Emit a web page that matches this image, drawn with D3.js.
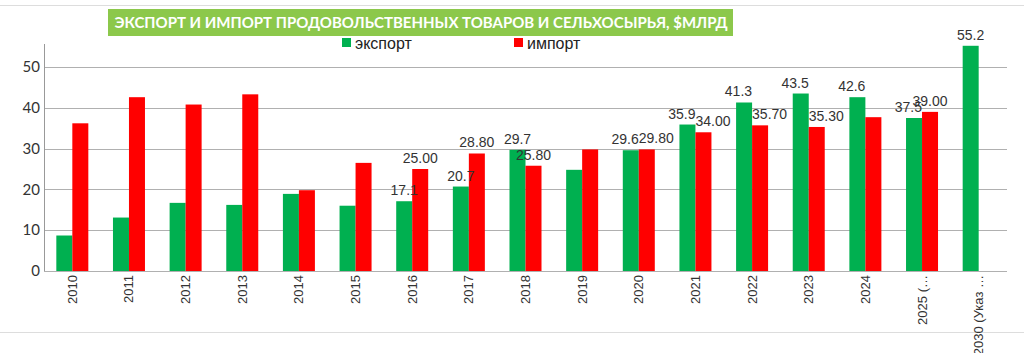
<!DOCTYPE html>
<html>
<head>
<meta charset="utf-8">
<script src="https://cdn.jsdelivr.net/npm/d3@7"></script>
<style>
  html, body { margin: 0; padding: 0; background: #fff; }
  svg { display: block; }
</style>
</head>
<body>
<div id="chart"></div>
<script>
const CATEGORIES = ["2010","2011","2012","2013","2014","2015","2016","2017","2018","2019",
                    "2020","2021","2022","2023","2024","2025 (…","2030 (Указ …"];
const EXPORT = [8.7, 13.1, 16.7, 16.2, 18.9, 16.0, 17.1, 20.7, 29.7, 24.8,
                29.6, 35.9, 41.3, 43.5, 42.6, 37.5, 55.2];
const IMPORT = [36.2, 42.6, 40.8, 43.3, 19.8, 26.5, 25.0, 28.8, 25.8, 29.8,
                29.8, 34.0, 35.7, 35.3, 37.7, 39.0, null];
// which values carry a data label
const EXPORT_LABELS = [null,null,null,null,null,null,"17.1","20.7","29.7",null,
                       "29.6","35.9","41.3","43.5","42.6","37.5","55.2"];
const IMPORT_LABELS = [null,null,null,null,null,null,"25.00","28.80","25.80",null,
                       "29.80","34.00","35.70","35.30",null,"39.00",null];
// how each label sits on its bar: m = centred, o = pushed to the outer edge
const EXPORT_ALIGN = "------mmm-ooooool".split("");
const IMPORT_ALIGN = "------mmm-oooo-m-".split("");
const Y_TICKS = [0, 10, 20, 30, 40, 50];
const TITLE = "ЭКСПОРТ И ИМПОРТ ПРОДОВОЛЬСТВЕННЫХ ТОВАРОВ И СЕЛЬХОСЫРЬЯ, $МЛРД";
const SERIES = [{ name: "экспорт", color: "#00b050" }, { name: "импорт", color: "#ff0000" }];

const W = 1024, H = 353;
const X0 = 44, X1 = 1007, Y0 = 271;
const BAR_W = 16;
const SANS = "Liberation Sans, Arial, sans-serif";

const svg = d3.select("#chart").append("svg").attr("width", W).attr("height", H);

// frame lines top/bottom
svg.append("line").attr("x1", 0).attr("x2", W).attr("y1", 5.5).attr("y2", 5.5)
  .attr("stroke", "#ddd");
svg.append("line").attr("x1", 0).attr("x2", W).attr("y1", 332.5).attr("y2", 332.5)
  .attr("stroke", "#ddd");

const x = d3.scaleBand().domain(CATEGORIES).range([X0, X1]);
const y = d3.scaleLinear().domain([0, 50]).range([Y0, 67]);

// grid
svg.append("g").selectAll("line").data(Y_TICKS).join("line")
  .attr("x1", X0).attr("x2", X1)
  .attr("y1", d => Math.round(y(d)) + 0.5).attr("y2", d => Math.round(y(d)) + 0.5)
  .attr("stroke", "#b0b0b0").attr("stroke-width", 1);

// y axis line
svg.append("line").attr("x1", X0 + 0.5).attr("x2", X0 + 0.5).attr("y1", 44).attr("y2", Y0)
  .attr("stroke", "#999");

// y tick labels
svg.append("g").selectAll("text").data(Y_TICKS).join("text")
  .attr("x", 40).attr("y", d => y(d)).attr("dy", "0.35em")
  .attr("text-anchor", "end").attr("font-family", "Lato, sans-serif")
  .attr("font-size", "15px").attr("fill", "#333").text(d => d);

// bars
const bars = svg.append("g");
CATEGORIES.forEach((c, i) => {
  const cx = x(c) + x.bandwidth() / 2;
  if (EXPORT[i] != null)
    bars.append("rect").attr("x", cx - BAR_W).attr("width", BAR_W)
      .attr("y", y(EXPORT[i])).attr("height", Y0 - y(EXPORT[i])).attr("fill", SERIES[0].color);
  if (IMPORT[i] != null)
    bars.append("rect").attr("x", cx).attr("width", BAR_W)
      .attr("y", y(IMPORT[i])).attr("height", Y0 - y(IMPORT[i])).attr("fill", SERIES[1].color);
});

// data labels
const labels = svg.append("g").attr("font-family", SANS)
  .attr("font-size", "14px").attr("fill", "#333");
CATEGORIES.forEach((c, i) => {
  const cx = x(c) + x.bandwidth() / 2;
  if (EXPORT_LABELS[i]) {
    const outer = EXPORT_ALIGN[i] === "o";
    labels.append("text")
      .attr("x", outer ? cx : cx - BAR_W / 2)
      .attr("text-anchor", outer ? "end" : "middle")
      .attr("y", y(EXPORT[i]) - 6).text(EXPORT_LABELS[i]);
  }
  if (IMPORT_LABELS[i]) {
    const outer = IMPORT_ALIGN[i] === "o";
    labels.append("text")
      .attr("x", outer ? cx : cx + BAR_W / 2)
      .attr("text-anchor", outer ? "start" : "middle")
      .attr("y", y(IMPORT[i]) - 6).text(IMPORT_LABELS[i]);
  }
});

// x tick labels (rotated)
svg.append("g").selectAll("text").data(CATEGORIES).join("text")
  .attr("transform", d => `translate(${x(d) + x.bandwidth() / 2 + 4.5},${Y0 + 4}) rotate(-90)`)
  .attr("text-anchor", "end").attr("font-family", SANS)
  .attr("font-size", "13px").attr("fill", "#333").text(d => d);

// title box
const title = svg.append("g");
title.append("rect").attr("x", 108).attr("y", 9).attr("width", 625).attr("height", 27)
  .attr("fill", "#8cc84b");
title.append("text").attr("x", 421).attr("y", 23).attr("dy", "0.35em")
  .attr("text-anchor", "middle").attr("font-family", "Lato, sans-serif")
  .attr("font-weight", "bold").attr("font-size", "15px").attr("fill", "#fff")
  .text(TITLE);

// legend
const LEGEND_X = [342, 514];
SERIES.forEach((s, i) => {
  svg.append("rect").attr("x", LEGEND_X[i]).attr("y", 38).attr("width", 9).attr("height", 9)
    .attr("fill", s.color);
  svg.append("text").attr("x", LEGEND_X[i] + 13).attr("y", 43).attr("dy", "0.35em")
    .attr("font-family", SANS).attr("font-size", "16px")
    .attr("fill", "#222").text(s.name);
});
</script>
</body>
</html>
